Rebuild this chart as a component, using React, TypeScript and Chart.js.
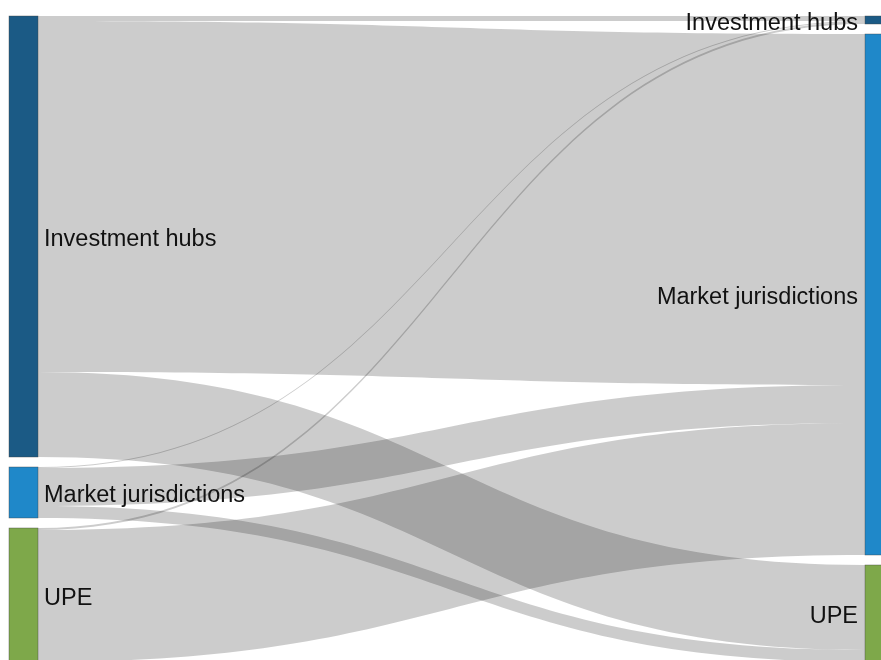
import React, { useEffect, useRef } from "react";
import { Chart, registerables } from "chart.js";

Chart.register(...registerables);

// ---- data ----
const nodeLabels = ["Investment hubs", "Market jurisdictions", "UPE"];
const nodeColors = ["#1b5a85", "#1f88c9", "#7ea84a"];
const linkSources = [0, 0, 0, 1, 1, 1, 2, 2];
const linkTargets = [0, 1, 2, 0, 1, 2, 0, 1];
const linkValues = [5, 351, 85, 1, 38, 12, 2, 132];

// ---- layout constants ----
const W = 881;
const H = 660;
const PAD_TOP = 16;
const PAD_LEFT = 9;
const NODE_W = 29;
const COL_SPAN_PX = 856;
const NODE_GAP = 10;
const Y_MAX = H - PAD_TOP;
const X_MAX = (W - PAD_LEFT) / COL_SPAN_PX;
const LINK_COLOR = "rgba(0,0,0,0.2)";
const FONT_SIZE = 23.5;

function buildLayout() {
  const n = nodeLabels.length;
  const leftTot = new Array(n).fill(0);
  const rightTot = new Array(n).fill(0);
  linkValues.forEach((v, i) => {
    leftTot[linkSources[i]] += v;
    rightTot[linkTargets[i]] += v;
  });
  const leftY: number[] = [];
  const rightY: number[] = [];
  let ly = 0;
  let ry = 0;
  for (let i = 0; i < n; i++) {
    leftY.push(ly);
    ly += leftTot[i] + NODE_GAP;
    rightY.push(ry);
    ry += rightTot[i] + NODE_GAP;
  }
  // link offsets: at source ordered by target index; at target ordered by source index
  const srcOff = leftY.slice();
  const tgtOff = rightY.slice();
  const idx = linkValues.map((_, i) => i);
  const bySrc = idx.slice().sort((a, b) => linkSources[a] - linkSources[b] || linkTargets[a] - linkTargets[b]);
  const sy: number[] = new Array(idx.length);
  bySrc.forEach((i) => {
    sy[i] = srcOff[linkSources[i]];
    srcOff[linkSources[i]] += linkValues[i];
  });
  const byTgt = idx.slice().sort((a, b) => linkTargets[a] - linkTargets[b] || linkSources[a] - linkSources[b]);
  const ty: number[] = new Array(idx.length);
  byTgt.forEach((i) => {
    ty[i] = tgtOff[linkTargets[i]];
    tgtOff[linkTargets[i]] += linkValues[i];
  });
  return { leftTot, rightTot, leftY, rightY, sy, ty };
}

const sankeyPlugin = {
  id: "sankeyDraw",
  afterDatasetsDraw(chart: any) {
    const { ctx } = chart;
    const xs = chart.scales.x;
    const ys = chart.scales.y;
    const L = buildLayout();
    const xL = xs.getPixelForValue(0);
    const xR = xs.getPixelForValue(1);
    const x0 = xL + NODE_W;
    const x1 = xR;
    const xm = (x0 + x1) / 2;
    ctx.save();
    // links
    linkValues.forEach((v, i) => {
      if (v <= 0) return;
      const sT = ys.getPixelForValue(L.sy[i]);
      const sB = ys.getPixelForValue(L.sy[i] + v);
      const tT = ys.getPixelForValue(L.ty[i]);
      const tB = ys.getPixelForValue(L.ty[i] + v);
      ctx.beginPath();
      ctx.moveTo(x0, sT);
      ctx.bezierCurveTo(xm, sT, xm, tT, x1, tT);
      ctx.lineTo(x1, tB);
      ctx.bezierCurveTo(xm, tB, xm, sB, x0, sB);
      ctx.closePath();
      ctx.fillStyle = LINK_COLOR;
      ctx.fill();
    });
    // nodes
    const drawNode = (x: number, y0: number, v: number, color: string) => {
      const top = ys.getPixelForValue(y0);
      const bot = ys.getPixelForValue(y0 + v);
      ctx.fillStyle = color;
      ctx.fillRect(x, top, NODE_W, bot - top);
      ctx.strokeStyle = "rgba(68,68,68,0.8)";
      ctx.lineWidth = 0.5;
      ctx.strokeRect(x, top, NODE_W, bot - top);
    };
    nodeLabels.forEach((_, i) => {
      drawNode(xL, L.leftY[i], L.leftTot[i], nodeColors[i]);
      drawNode(xR, L.rightY[i], L.rightTot[i], nodeColors[i]);
    });
    // labels
    ctx.font = `${FONT_SIZE}px "Liberation Sans", Arial, sans-serif`;
    ctx.fillStyle = "#111";
    ctx.textBaseline = "alphabetic";
    nodeLabels.forEach((lab, i) => {
      const cl = ys.getPixelForValue(L.leftY[i] + L.leftTot[i] / 2);
      ctx.textAlign = "left";
      ctx.fillText(lab, x0 + 6, cl + FONT_SIZE * 0.42);
      const cr = ys.getPixelForValue(L.rightY[i] + L.rightTot[i] / 2);
      ctx.textAlign = "right";
      ctx.fillText(lab, xR - 7, cr + FONT_SIZE * 0.42);
    });
    ctx.restore();
  },
};

export default function App() {
  const ref = useRef<HTMLCanvasElement | null>(null);
  useEffect(() => {
    if (!ref.current) return;
    const chart = new Chart(ref.current, {
      type: "scatter",
      data: { datasets: [{ data: [] }] },
      options: {
        animation: false,
        responsive: false,
        events: [],
        layout: { padding: { top: PAD_TOP, left: PAD_LEFT, right: 0, bottom: 0 } },
        scales: {
          x: { type: "linear", display: false, min: 0, max: X_MAX },
          y: { type: "linear", display: false, min: 0, max: Y_MAX, reverse: true },
        },
        plugins: { legend: { display: false }, tooltip: { enabled: false } },
      },
      plugins: [sankeyPlugin],
    } as any);
    return () => chart.destroy();
  }, []);
  return (
    <div style={{ position: "fixed", left: 0, top: 0, width: W, height: H, background: "#fff" }}>
      <canvas ref={ref} width={W} height={H} style={{ display: "block", width: W, height: H }} />
    </div>
  );
}
